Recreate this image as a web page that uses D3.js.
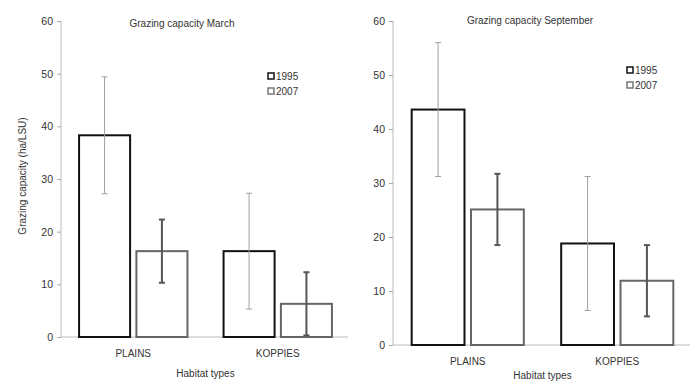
<!DOCTYPE html>
<html>
<head>
<meta charset="utf-8">
<script src="https://cdn.jsdelivr.net/npm/d3@7"></script>
<style>
  body { margin: 0; background: #fff; }
  text { font-family: "Liberation Sans", Arial, sans-serif; fill: #333; }
</style>
</head>
<body>
<div class="chart"></div>
<script>
(function() {

// data
var categories = ['PLAINS', 'KOPPIES'];
var years = ['1995', '2007'];
var ticks = [0, 10, 20, 30, 40, 50, 60];

var march1995 = [38.3, 16.3];
var march2007 = [16.3, 6.3];
var marchErr1995 = [11.1, 11.0];
var marchErr2007 = [6.0, 6.0];

var sept1995 = [43.6, 18.8];
var sept2007 = [25.1, 11.9];
var septErr1995 = [12.4, 12.4];
var septErr2007 = [6.6, 6.6];

var svg = d3.select('.chart')
  .append('svg')
  .attr('width', 700)
  .attr('height', 381);

var panels = [
  { title: 'Grazing capacity March', x0: 61, x1: 350, yTop: 21, yBot: 337,
    titleX: 182, titleY: 27, legX: 268, legY: 76, xlabY: 357, habY: 377,
    values: [march1995, march2007], errs: [marchErr1995, marchErr2007], ylabel: true },
  { title: 'Grazing capacity September', x0: 393, x1: 692, yTop: 21, yBot: 345,
    titleX: 530, titleY: 24, legX: 627, legY: 70, xlabY: 365, habY: 378.5,
    values: [sept1995, sept2007], errs: [septErr1995, septErr2007], ylabel: false }
];

var barStroke = ['#111', '#666'];
var errColor = ['#a0a0a0', '#555'];
var errWidth = [1, 2];
var legStroke = ['#111', '#777'];

panels.forEach(function(p) {
  var g = svg.append('g');

  var y = d3.scaleLinear().domain([0, 60]).range([p.yBot, p.yTop]);
  var x = d3.scaleBand().domain(categories).range([p.x0, p.x1])
    .paddingInner(0.25).paddingOuter(0.125);
  var xs = d3.scaleBand().domain(years).range([0, x.bandwidth()]).paddingInner(0.11);

  // y axis
  var yAxis = g.append('g')
    .attr('transform', 'translate(' + p.x0 + ',0)')
    .call(d3.axisLeft(y).tickValues(ticks).tickSize(4).tickPadding(4));
  yAxis.selectAll('line').attr('stroke', '#aaa');
  yAxis.select('.domain').attr('stroke', '#bbb').attr('d', 'M0,' + p.yTop + 'V' + p.yBot);
  yAxis.selectAll('text')
    .style('font-family', '"Liberation Sans", Arial, sans-serif')
    .style('font-size', '10.5px').attr('fill', '#333');

  // x axis line
  g.append('line')
    .attr('x1', p.x0).attr('x2', p.x1 - 2)
    .attr('y1', p.yBot).attr('y2', p.yBot)
    .attr('stroke', '#bbb');

  // bars
  years.forEach(function(yr, k) {
    var data = categories.map(function(c, i) {
      return { cat: c, v: p.values[k][i], e: p.errs[k][i] };
    });

    g.selectAll('rect.b' + yr).data(data).enter()
      .append('rect')
      .attr('x', function(d) { return x(d.cat) + xs(yr); })
      .attr('y', function(d) { return y(d.v); })
      .attr('width', xs.bandwidth())
      .attr('height', function(d) { return y(0) - y(d.v); })
      .attr('fill', '#fff')
      .attr('stroke', barStroke[k])
      .attr('stroke-width', 2);

    var cx = function(d) { return x(d.cat) + xs(yr) + xs.bandwidth() / 2; };
    var eg = g.selectAll('g.e' + yr).data(data).enter().append('g')
      .attr('stroke', errColor[k]).attr('stroke-width', errWidth[k]);
    eg.append('line')
      .attr('x1', cx).attr('x2', cx)
      .attr('y1', function(d) { return y(d.v + d.e); })
      .attr('y2', function(d) { return y(d.v - d.e); });
    [1, -1].forEach(function(s) {
      eg.append('line')
        .attr('x1', function(d) { return cx(d) - 3; })
        .attr('x2', function(d) { return cx(d) + 3; })
        .attr('y1', function(d) { return y(d.v + s * d.e); })
        .attr('y2', function(d) { return y(d.v + s * d.e); });
    });
  });

  // category labels
  g.selectAll('text.cat').data(categories).enter()
    .append('text')
    .attr('x', function(d) { return x(d) + x.bandwidth() / 2; })
    .attr('y', p.xlabY)
    .attr('text-anchor', 'middle')
    .style('font-size', '10px')
    .text(function(d) { return d; });

  g.append('text')
    .attr('x', (p.x0 + p.x1) / 2)
    .attr('y', p.habY)
    .attr('text-anchor', 'middle')
    .style('font-size', '10px')
    .text('Habitat types');

  // title
  g.append('text')
    .attr('x', p.titleX)
    .attr('y', p.titleY)
    .attr('text-anchor', 'middle')
    .style('font-size', '10px')
    .text(p.title);

  // legend
  years.forEach(function(yr, k) {
    var ly = p.legY + k * 15;
    g.append('rect')
      .attr('x', p.legX).attr('y', ly - 3)
      .attr('width', 6).attr('height', 6)
      .attr('fill', '#fff')
      .attr('stroke', legStroke[k]).attr('stroke-width', 1.5);
    g.append('text')
      .attr('x', p.legX + 8).attr('y', ly + 3.5)
      .style('font-size', '10px')
      .text(yr);
  });

  if (p.ylabel) {
    g.append('text')
      .attr('transform', 'translate(26,176) rotate(-90)')
      .attr('text-anchor', 'middle')
      .style('font-size', '10px')
      .text('Grazing capacity (ha/LSU)');
  }
});

})();
</script>
</body>
</html>
